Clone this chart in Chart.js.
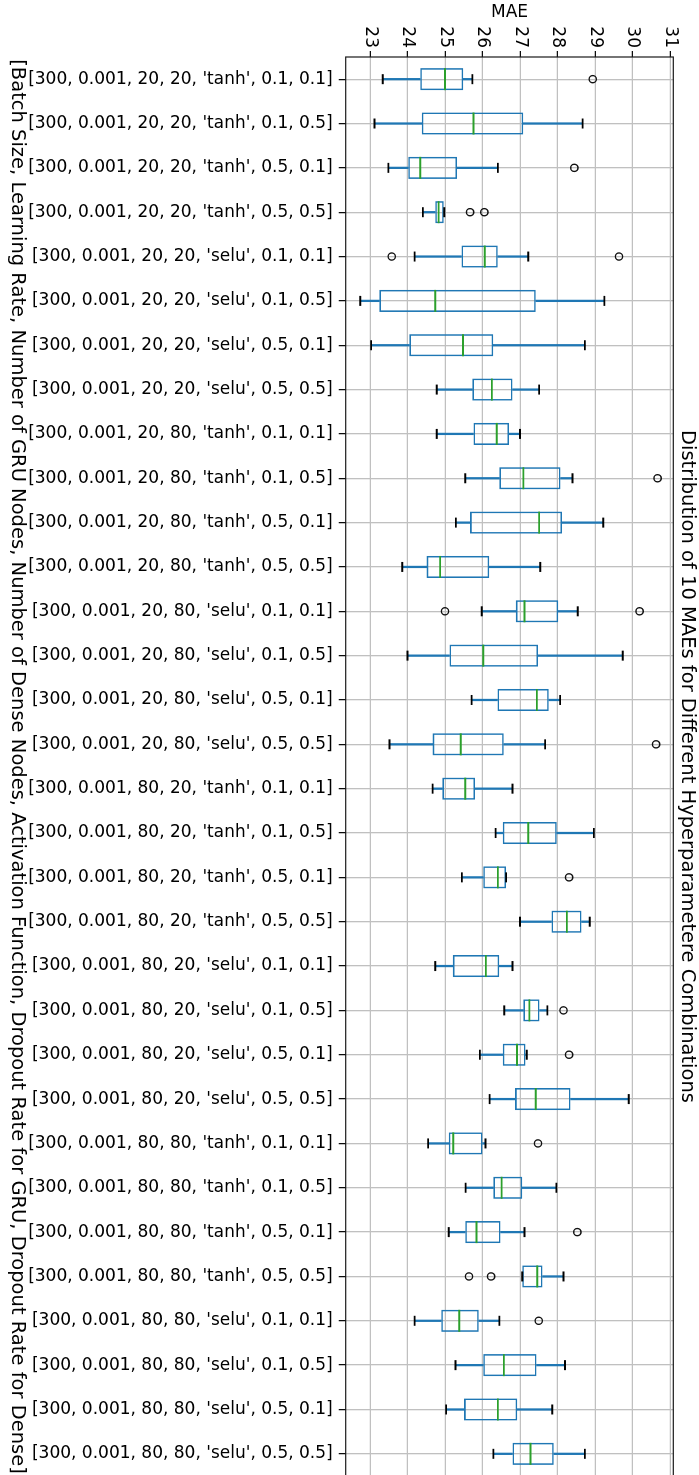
<!DOCTYPE html>
<html><head><meta charset="utf-8">
<script src="https://cdn.jsdelivr.net/npm/chart.js@4.4.1/dist/chart.umd.min.js"></script>
<style>
html,body{margin:0;padding:0;background:#fff;overflow:hidden;width:699px;height:1475px;}
#wrap{position:absolute;left:0;top:0;width:1478px;height:699px;transform-origin:0 0;transform:translateX(699px) rotate(90deg);}
canvas{display:block;}
</style></head><body>
<div id="wrap"><canvas id="c" width="1478" height="699"></canvas></div>
<script>
const categories = [
"[300, 0.001, 20, 20, 'tanh', 0.1, 0.1]",
"[300, 0.001, 20, 20, 'tanh', 0.1, 0.5]",
"[300, 0.001, 20, 20, 'tanh', 0.5, 0.1]",
"[300, 0.001, 20, 20, 'tanh', 0.5, 0.5]",
"[300, 0.001, 20, 20, 'selu', 0.1, 0.1]",
"[300, 0.001, 20, 20, 'selu', 0.1, 0.5]",
"[300, 0.001, 20, 20, 'selu', 0.5, 0.1]",
"[300, 0.001, 20, 20, 'selu', 0.5, 0.5]",
"[300, 0.001, 20, 80, 'tanh', 0.1, 0.1]",
"[300, 0.001, 20, 80, 'tanh', 0.1, 0.5]",
"[300, 0.001, 20, 80, 'tanh', 0.5, 0.1]",
"[300, 0.001, 20, 80, 'tanh', 0.5, 0.5]",
"[300, 0.001, 20, 80, 'selu', 0.1, 0.1]",
"[300, 0.001, 20, 80, 'selu', 0.1, 0.5]",
"[300, 0.001, 20, 80, 'selu', 0.5, 0.1]",
"[300, 0.001, 20, 80, 'selu', 0.5, 0.5]",
"[300, 0.001, 80, 20, 'tanh', 0.1, 0.1]",
"[300, 0.001, 80, 20, 'tanh', 0.1, 0.5]",
"[300, 0.001, 80, 20, 'tanh', 0.5, 0.1]",
"[300, 0.001, 80, 20, 'tanh', 0.5, 0.5]",
"[300, 0.001, 80, 20, 'selu', 0.1, 0.1]",
"[300, 0.001, 80, 20, 'selu', 0.1, 0.5]",
"[300, 0.001, 80, 20, 'selu', 0.5, 0.1]",
"[300, 0.001, 80, 20, 'selu', 0.5, 0.5]",
"[300, 0.001, 80, 80, 'tanh', 0.1, 0.1]",
"[300, 0.001, 80, 80, 'tanh', 0.1, 0.5]",
"[300, 0.001, 80, 80, 'tanh', 0.5, 0.1]",
"[300, 0.001, 80, 80, 'tanh', 0.5, 0.5]",
"[300, 0.001, 80, 80, 'selu', 0.1, 0.1]",
"[300, 0.001, 80, 80, 'selu', 0.1, 0.5]",
"[300, 0.001, 80, 80, 'selu', 0.5, 0.1]",
"[300, 0.001, 80, 80, 'selu', 0.5, 0.5]"
];
const whiskerLow  = [23.34,23.12,23.49,24.41,24.19,22.74,23.03,24.78,24.78,25.54,25.29,23.86,25.98,24.00,25.71,23.52,24.67,26.35,25.45,27.00,24.74,26.58,25.93,26.19,24.55,25.55,25.10,27.06,24.19,25.28,25.03,26.29];
const quartile1   = [24.34,24.38,24.02,24.74,25.44,23.25,24.05,25.73,25.76,26.45,25.67,24.51,26.89,25.12,26.40,24.67,24.93,26.54,26.02,27.84,25.21,27.09,26.54,26.87,25.10,26.29,25.54,27.06,24.90,26.02,25.51,26.80];
const medians     = [25.00,25.76,24.34,24.83,26.06,24.74,25.48,26.25,26.38,27.09,27.51,24.87,27.12,26.02,27.45,25.42,25.54,27.22,26.41,28.25,26.09,27.25,26.92,27.42,25.22,26.51,25.84,27.46,25.38,26.57,26.41,27.28];
const quartile3   = [25.49,27.09,25.32,24.97,26.41,27.42,26.29,26.80,26.71,28.08,28.12,26.18,28.02,27.48,27.77,26.57,25.80,27.98,26.63,28.64,26.45,27.52,27.15,28.35,26.00,27.06,26.48,27.60,25.90,27.44,26.93,27.90];
const whiskerHigh = [25.73,28.67,26.41,24.98,27.22,29.25,28.73,27.51,27.00,28.40,29.22,27.54,28.54,29.74,28.07,27.67,26.80,28.97,26.63,28.86,26.80,27.73,27.18,29.90,26.08,27.97,27.12,28.16,26.45,28.20,27.86,28.73];
// [category index, value]
const outliers = [[0,28.94],[2,28.45],[3,25.67],[3,26.05],[4,23.58],[4,29.64],[9,30.67],[12,25.00],[12,30.19],[15,30.63],[18,28.31],[21,28.16],[22,28.31],[24,27.48],[26,28.53],[27,25.64],[27,26.23],[28,27.50]];
const maeTicks = [23,24,25,26,27,28,29,30,31];
const maeMin = 22.352, maeMax = 31.088;
const titleText = 'Distribution of 10 MAEs for Different Hyperparametere Combinations';
const xTitle = '[Batch Size, Learning Rate, Number of GRU Nodes, Number of Dense Nodes, Activation Function, Dropout Rate for GRU, Dropout Rate for Dense]';
const yTitle = 'MAE';

const FONT = 'DejaVu Sans';
const BLUE = '#1f77b4', GREEN = '#2ca02c', BLACK = '#000000';

const framePlugin = {
  id: 'frame',
  afterDraw(chart) {
    const {ctx, chartArea: a} = chart;
    ctx.save();
    ctx.strokeStyle = '#1a1a1a';
    ctx.lineWidth = 1.2;
    ctx.strokeRect(a.left, a.top, a.right - a.left, a.bottom - a.top);
    ctx.restore();
  }
};

new Chart(document.getElementById('c'), {
  type: 'bar',
  data: {
    labels: categories,
    datasets: [
      { type: 'line', label: 'median', data: medians, showLine: false, pointStyle: 'line', pointRadius: 11, pointBorderColor: GREEN, pointBackgroundColor: GREEN, pointBorderWidth: 1.8 },
      { type: 'line', label: 'capLow', data: whiskerLow, showLine: false, pointStyle: 'line', pointRadius: 5, pointBorderColor: BLACK, pointBackgroundColor: BLACK, pointBorderWidth: 1.8 },
      { type: 'line', label: 'capHigh', data: whiskerHigh, showLine: false, pointStyle: 'line', pointRadius: 5, pointBorderColor: BLACK, pointBackgroundColor: BLACK, pointBorderWidth: 1.8 },
      { type: 'line', label: 'outliers', data: outliers.map(o => ({x: categories[o[0]], y: o[1]})), showLine: false, pointStyle: 'circle', pointRadius: 3.6, pointBorderColor: '#111', pointBackgroundColor: 'rgba(0,0,0,0)', pointBorderWidth: 1.4 },
      { label: 'box', data: quartile1.map((v, i) => [v, quartile3[i]]), backgroundColor: 'rgba(0,0,0,0)', borderColor: BLUE, borderWidth: 1.6, borderSkipped: false, barPercentage: 0.5, categoryPercentage: 1, grouped: false },
      { label: 'whiskerLow', data: whiskerLow.map((v, i) => [v, quartile1[i]]), backgroundColor: BLUE, borderWidth: 0, barThickness: 1.6, grouped: false },
      { label: 'whiskerHigh', data: quartile3.map((v, i) => [v, whiskerHigh[i]]), backgroundColor: BLUE, borderWidth: 0, barThickness: 1.6, grouped: false }
    ]
  },
  options: {
    responsive: false,
    devicePixelRatio: 1,
    animation: false,
    events: [],
    layout: { autoPadding: false, padding: { left: 0, right: 2, top: 0, bottom: 0 } },
    plugins: {
      legend: { display: false },
      tooltip: { enabled: false },
      title: {
        display: true, text: titleText, fullSize: false, color: BLACK,
        font: { family: FONT, size: 19.5, weight: 'normal' },
        padding: { top: 0.6, bottom: 1.7 }
      }
    },
    scales: {
      x: {
        type: 'category',
        offset: true,
        border: { display: false },
        grid: { display: true, offset: false, color: '#c0c0c0', lineWidth: 1.3, drawTicks: true, tickLength: 7, tickColor: BLACK, tickWidth: 1.2 },
        ticks: { autoSkip: false, minRotation: 90, maxRotation: 90, padding: 6, color: BLACK, font: { family: FONT, size: 17 } },
        title: { display: true, text: xTitle, color: BLACK, font: { family: FONT, size: 19.5 }, padding: { top: 0, bottom: 5.3 } },
        afterFit(s) { s.height = 345.7; s.paddingLeft = 0; s.paddingRight = 0; }
      },
      y: {
        type: 'linear',
        min: maeMin, max: maeMax,
        border: { display: false },
        grid: { display: true, color: '#c0c0c0', lineWidth: 1.3, drawTicks: true, tickLength: 6, tickColor: BLACK, tickWidth: 1.2 },
        ticks: { padding: 3, color: BLACK, font: { family: FONT, size: 17 }, callback: v => String(v) },
        afterBuildTicks(s) { s.ticks = maeTicks.map(v => ({ value: v })); },
        title: { display: true, text: yTitle, color: BLACK, font: { family: FONT, size: 17 }, padding: { top: 2.3, bottom: 0 } },
        afterFit(s) { s.width = 57; s.paddingTop = 0; s.paddingBottom = 0; }
      }
    }
  },
  plugins: [framePlugin]
});
</script>
</body></html>
